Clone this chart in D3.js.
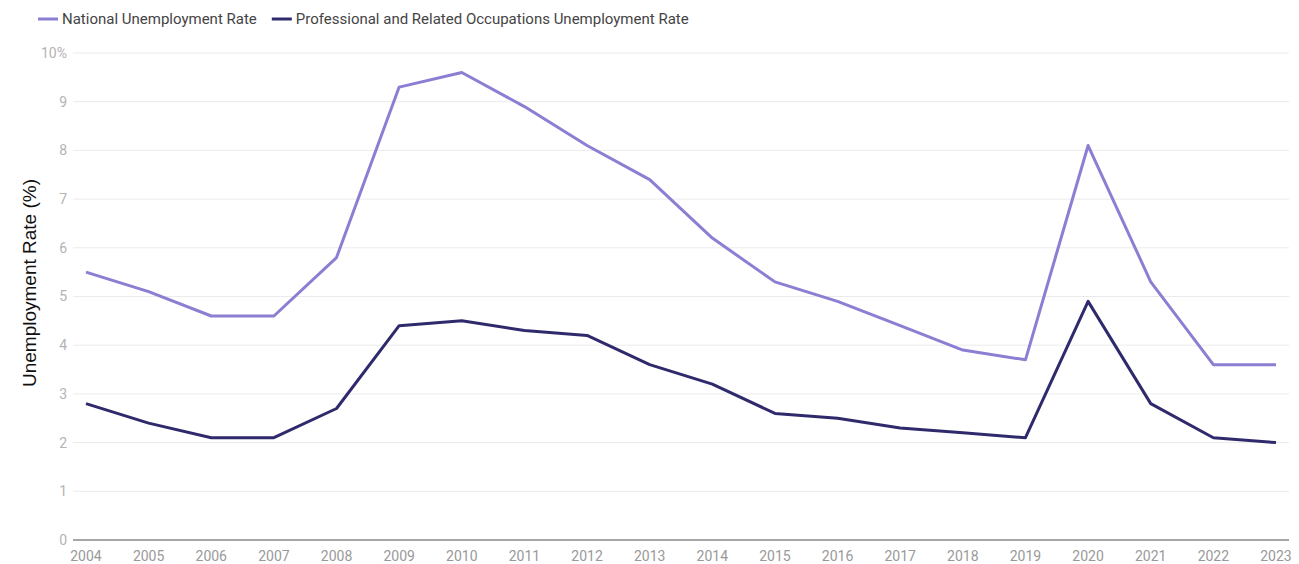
<!DOCTYPE html>
<html><head><meta charset="utf-8">
<script src="https://cdn.jsdelivr.net/npm/d3@7"></script>
<style>body{margin:0;background:#fff;font-family:Roboto,sans-serif;}</style>
</head><body><svg id="c" width="1299" height="564"></svg>
<script>
const years = [2004,2005,2006,2007,2008,2009,2010,2011,2012,2013,2014,2015,2016,2017,2018,2019,2020,2021,2022,2023];
const national = [5.5,5.1,4.6,4.6,5.8,9.3,9.6,8.9,8.1,7.4,6.2,5.3,4.9,4.4,3.9,3.7,8.1,5.3,3.6,3.6];
const professional = [2.8,2.4,2.1,2.1,2.7,4.4,4.5,4.3,4.2,3.6,3.2,2.6,2.5,2.3,2.2,2.1,4.9,2.8,2.1,2.0];
const yTicks = [0,1,2,3,4,5,6,7,8,9,10];
const seriesNames = ["National Unemployment Rate","Professional and Related Occupations Unemployment Rate"];
const colors = ["#8a7fd3","#2f2a6c"];

const svg = d3.select("#c");
const x = d3.scalePoint().domain(years).range([86,1276]);
const y = d3.scaleLinear().domain([0,10]).range([540,53]);

// gridlines
svg.append("g").selectAll("line").data(yTicks.filter(d=>d>0)).join("line")
  .attr("x1",73).attr("x2",1289).attr("y1",d=>y(d)).attr("y2",d=>y(d))
  .attr("stroke","#ebebeb").attr("stroke-width",1);
// baseline
svg.append("line").attr("x1",73).attr("x2",1289).attr("y1",y(0)).attr("y2",y(0))
  .attr("stroke","#888").attr("stroke-width",1.5);

// y labels
svg.append("g").selectAll("text").data(yTicks).join("text")
  .attr("x",67).attr("y",d=>y(d)).attr("dy","0.35em").attr("text-anchor","end")
  .attr("font-size",14).attr("fill","#b3b3b3")
  .text(d=>d===10?"10%":d);
// x labels
svg.append("g").selectAll("text").data(years).join("text")
  .attr("x",d=>x(d)).attr("y",561).attr("text-anchor","middle")
  .attr("font-size",14).attr("fill","#999")
  .text(d=>d);

// axis title
svg.append("text").attr("transform","translate(36,283) rotate(-90)")
  .attr("text-anchor","middle").attr("font-size",19).attr("fill","#111")
  .attr("font-family","'Liberation Sans',Arial,sans-serif")
  .text("Unemployment Rate (%)");

const line = d3.line().x((d,i)=>x(years[i])).y(d=>y(d));
[national,professional].forEach((s,i)=>{
  svg.append("path").datum(s).attr("d",line).attr("fill","none")
    .attr("stroke",colors[i]).attr("stroke-width",3).attr("stroke-linejoin","round");
});

// legend
const lg = svg.append("g");
let lx = 38;
seriesNames.forEach((n,i)=>{
  lg.append("line").attr("x1",lx).attr("x2",lx+20).attr("y1",19).attr("y2",19)
    .attr("stroke",colors[i]).attr("stroke-width",3);
  const t = lg.append("text").attr("x",lx+24).attr("y",19).attr("dy","0.35em")
    .attr("font-size",15).attr("fill","#444").text(n);
  lx += 24 + t.node().getComputedTextLength() + 15;
});
</script></body></html>
